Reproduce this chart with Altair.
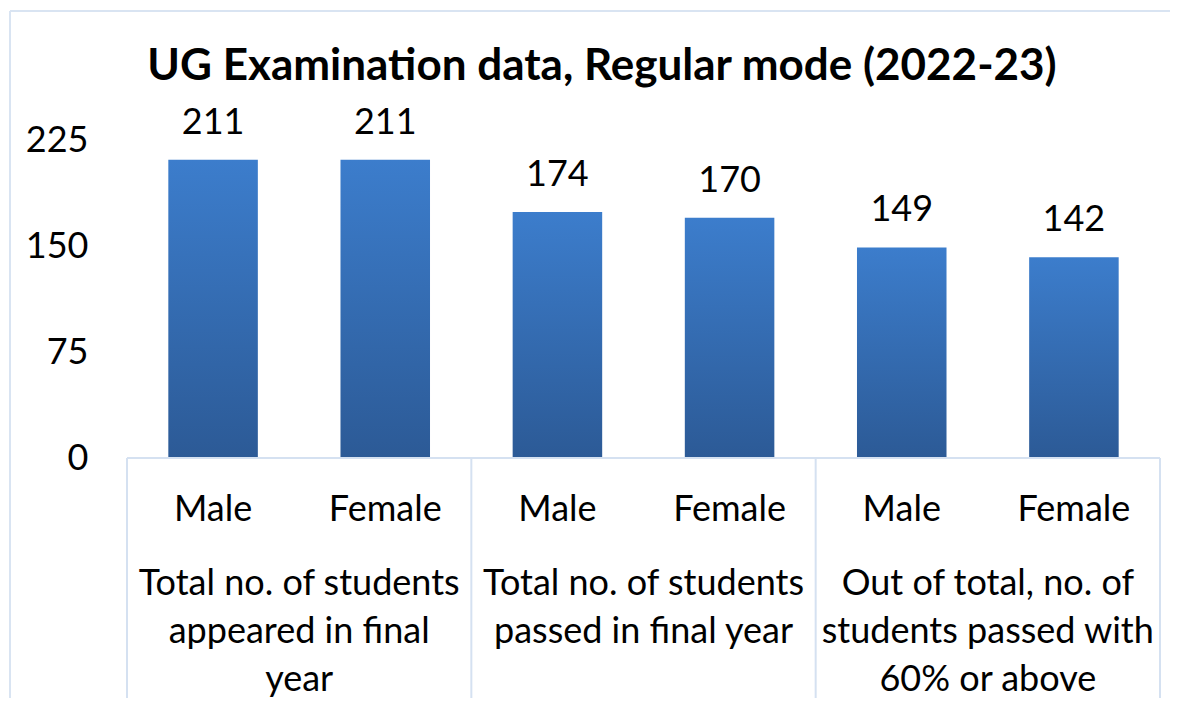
import altair as alt
import pandas as pd

# ---- data ----
title_text = "UG Examination data, Regular mode (2022-23)"
sexes = ["Male", "Female", "Male", "Female", "Male", "Female"]
values = [211, 211, 174, 170, 149, 142]
bar_group = [0, 0, 1, 1, 2, 2]
group_labels = [
    "Total no. of students|appeared in final|year",
    "Total no. of students|passed in final year",
    "Out of total, no. of|students passed with|60% or above",
]
y_ticks = [0, 75, 150, 225]

# ---- tables built from the arrays ----
bars = pd.DataFrame({"pos": list(range(len(values))), "sex": sexes,
                     "value": values, "grp": bar_group})
grp = bars.groupby("grp")["pos"].agg(["mean", "max"]).reset_index()
grp["label"] = group_labels
seps = pd.DataFrame({"x": [-0.5] + [m + 0.5 for m in grp["max"]]})
groups_df = pd.DataFrame({"center": grp["mean"], "label": grp["label"]})

W, H = 1033, 318
FONT = "Lato"
LINE = "#D5E1F1"

xs = alt.Scale(domain=[-0.5, len(values) - 0.5], nice=False, zero=False)
ys = alt.Scale(domain=[0, 225], nice=False)

grad = alt.LinearGradient(
    gradient="linear",
    stops=[alt.GradientStop(offset=0, color="#3C7DCC"),
           alt.GradientStop(offset=1, color="#2C5A96")],
    x1=0, x2=0, y1=0, y2=1,
)

base = alt.Chart(bars)

bar_layer = base.transform_calculate(
    x0="datum.pos - 0.26", x1="datum.pos + 0.26"
).mark_bar(color=grad).encode(
    x=alt.X("x0:Q", scale=xs, axis=None),
    x2="x1:Q",
    y=alt.Y("value:Q", scale=ys,
            axis=alt.Axis(values=y_ticks, title=None, grid=False, ticks=False,
                          domain=False, labelFont=FONT, labelFontSize=36,
                          labelColor="#000000", labelPadding=39)),
    y2=alt.datum(0),
)

value_labels = base.mark_text(font=FONT, fontSize=36, baseline="alphabetic",
                              dy=-26, color="#000000").encode(
    x=alt.X("pos:Q", scale=xs), y=alt.Y("value:Q", scale=ys), text="value:Q"
)

sex_labels = base.mark_text(font=FONT, fontSize=36, baseline="alphabetic",
                            color="#000000").encode(
    x=alt.X("pos:Q", scale=xs), y=alt.value(H + 63), text="sex:N"
)

group_text = alt.Chart(groups_df).transform_calculate(
    lines="split(datum.label, '|')"
).mark_text(font=FONT, fontSize=36, baseline="alphabetic", lineHeight=48,
            color="#000000").encode(
    x=alt.X("center:Q", scale=xs), y=alt.value(H + 137), text="lines:N"
)

sep_rules = alt.Chart(seps).mark_rule(color=LINE, strokeWidth=2).encode(
    x=alt.X("x:Q", scale=xs), y=alt.value(H), y2=alt.value(H + 250)
)

baseline = alt.Chart(bars).mark_rule(color=LINE, strokeWidth=2).encode(
    x=alt.value(0), x2=alt.value(W), y=alt.value(H)
)

border_top = alt.Chart(bars).mark_rule(color="#D9E4F2", strokeWidth=2).encode(
    x=alt.value(-117), x2=alt.value(W + 40), y=alt.value(-129)
)
border_left = alt.Chart(bars).mark_rule(color="#D9E4F2", strokeWidth=2).encode(
    x=alt.value(-117), y=alt.value(-129), y2=alt.value(H + 300)
)

title_layer = alt.Chart(pd.DataFrame({"t": [title_text]})).mark_text(
    font=FONT, fontSize=44, fontWeight="bold", baseline="alphabetic",
    color="#000000"
).encode(x=alt.value(475), y=alt.value(-60), text="t:N")

chart = alt.layer(
    border_top, border_left, bar_layer, baseline, sep_rules,
    value_labels, sex_labels, group_text, title_layer
).properties(
    width=W, height=H,
    padding={"left": 119, "top": 132, "right": 10, "bottom": 240},
    autosize=alt.AutoSizeParams(type="none"),
    background="#FFFFFF",
).configure_view(stroke=None)

chart.save("out.html", embed_options={"renderer": "svg", "actions": False})
